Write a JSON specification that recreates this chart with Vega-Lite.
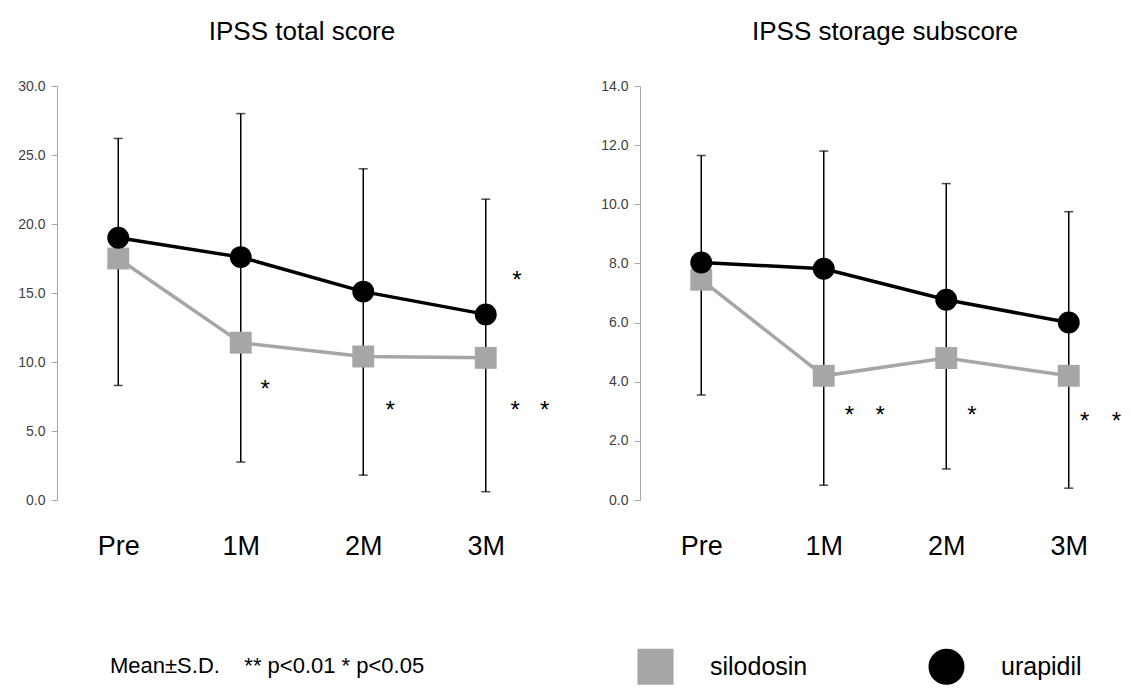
{
  "$schema": "https://vega.github.io/schema/vega-lite/v6.json",
  "padding": {"left": 17, "top": 19, "right": 0, "bottom": 0},
  "config": {
    "view": {"stroke": null},
    "font": "Liberation Sans",
    "concat": {"spacing": 50},
    "legend": {"orient": "none", "legendX": 53, "legendY": 562, "direction": "horizontal", "titleOrient": "left", "titleFontSize": 22, "titleFontWeight": "normal", "titleColor": "black", "titlePadding": 212, "titleLimit": 500, "symbolSize": 1300, "symbolStrokeWidth": 0, "symbolOpacity": 1, "labelFontSize": 25, "labelColor": "black", "labelOffset": 36, "labelLimit": 300, "columnPadding": 120}
  },
  "datasets": {
    "means": [
      {"panel": "total", "group": "silodosin", "time": "Pre", "t": 0, "value": 17.5},
      {"panel": "total", "group": "silodosin", "time": "1M", "t": 1, "value": 11.4},
      {"panel": "total", "group": "silodosin", "time": "2M", "t": 2, "value": 10.4},
      {"panel": "total", "group": "silodosin", "time": "3M", "t": 3, "value": 10.3},
      {"panel": "total", "group": "urapidil", "time": "Pre", "t": 0, "value": 19.0},
      {"panel": "total", "group": "urapidil", "time": "1M", "t": 1, "value": 17.6},
      {"panel": "total", "group": "urapidil", "time": "2M", "t": 2, "value": 15.1},
      {"panel": "total", "group": "urapidil", "time": "3M", "t": 3, "value": 13.45},
      {"panel": "storage", "group": "silodosin", "time": "Pre", "t": 0, "value": 7.45},
      {"panel": "storage", "group": "silodosin", "time": "1M", "t": 1, "value": 4.2},
      {"panel": "storage", "group": "silodosin", "time": "2M", "t": 2, "value": 4.8},
      {"panel": "storage", "group": "silodosin", "time": "3M", "t": 3, "value": 4.2},
      {"panel": "storage", "group": "urapidil", "time": "Pre", "t": 0, "value": 8.03},
      {"panel": "storage", "group": "urapidil", "time": "1M", "t": 1, "value": 7.82},
      {"panel": "storage", "group": "urapidil", "time": "2M", "t": 2, "value": 6.77},
      {"panel": "storage", "group": "urapidil", "time": "3M", "t": 3, "value": 6.0}
    ],
    "errs": [
      {"panel": "total", "time": "Pre", "t": 0, "low": 8.3, "high": 26.2},
      {"panel": "total", "time": "1M", "t": 1, "low": 2.75, "high": 28.0},
      {"panel": "total", "time": "2M", "t": 2, "low": 1.8, "high": 24.0},
      {"panel": "total", "time": "3M", "t": 3, "low": 0.6, "high": 21.8},
      {"panel": "storage", "time": "Pre", "t": 0, "low": 3.55, "high": 11.65},
      {"panel": "storage", "time": "1M", "t": 1, "low": 0.5, "high": 11.8},
      {"panel": "storage", "time": "2M", "t": 2, "low": 1.05, "high": 10.7},
      {"panel": "storage", "time": "3M", "t": 3, "low": 0.4, "high": 9.75}
    ],
    "stars": [
      {"panel": "total", "t": 1.2, "value": 8.33, "label": "*"},
      {"panel": "total", "t": 2.22, "value": 6.8, "label": "*"},
      {"panel": "total", "t": 3.24, "value": 6.8, "label": "*"},
      {"panel": "total", "t": 3.48, "value": 6.8, "label": "*"},
      {"panel": "total", "t": 3.255, "value": 16.2, "label": "*"},
      {"panel": "storage", "t": 1.21, "value": 3.0, "label": "*"},
      {"panel": "storage", "t": 1.46, "value": 3.0, "label": "*"},
      {"panel": "storage", "t": 2.21, "value": 3.0, "label": "*"},
      {"panel": "storage", "t": 3.13, "value": 2.8, "label": "*"},
      {"panel": "storage", "t": 3.39, "value": 2.8, "label": "*"}
    ]
  },
  "hconcat": [
    {
      "title": {"text": "IPSS total score", "fontSize": 26, "fontWeight": "normal", "font": "Liberation Sans", "color": "black", "offset": 34},
      "width": 490,
      "height": 414,
      "layer": [
        {
          "data": {"name": "errs"},
          "transform": [{"filter": "datum.panel === 'total'"}],
          "mark": {"type": "rule", "color": "black", "strokeWidth": 1.5},
          "encoding": {
            "x": {"field": "t", "type": "quantitative", "scale": {"domain": [-0.5, 3.5], "nice": false, "zero": false}, "axis": {"values": [0, 1, 2, 3], "labelExpr": "['Pre','1M','2M','3M'][datum.value]", "domain": false, "ticks": false, "grid": false, "labelFontSize": 27, "labelColor": "black", "labelPadding": 33, "title": null}},
            "y": {"field": "low", "type": "quantitative", "scale": {"domain": [0, 30], "nice": false}, "axis": {"values": [0, 5, 10, 15, 20, 25, 30], "format": ".1f", "grid": false, "domainColor": "#a6a6a6", "tickColor": "#a6a6a6", "tickSize": 6, "labelFontSize": 14, "labelColor": "#404040", "labelPadding": 6, "title": null}},
            "y2": {"field": "high"}
          }
        },
        {
          "data": {"name": "errs"},
          "transform": [{"filter": "datum.panel === 'total'"}],
          "mark": {"type": "tick", "orient": "horizontal", "size": 9, "thickness": 1.5, "color": "black"},
          "encoding": {
            "x": {"field": "t", "type": "quantitative"},
            "y": {"field": "low", "type": "quantitative"}
          }
        },
        {
          "data": {"name": "errs"},
          "transform": [{"filter": "datum.panel === 'total'"}],
          "mark": {"type": "tick", "orient": "horizontal", "size": 9, "thickness": 1.5, "color": "black"},
          "encoding": {
            "x": {"field": "t", "type": "quantitative"},
            "y": {"field": "high", "type": "quantitative"}
          }
        },
        {
          "data": {"name": "means"},
          "transform": [{"filter": "datum.panel === 'total'"}],
          "mark": {"type": "line", "strokeWidth": 3.5},
          "encoding": {
            "x": {"field": "t", "type": "quantitative"},
            "y": {"field": "value", "type": "quantitative"},
            "color": {"field": "group", "type": "nominal", "scale": {"domain": ["silodosin", "urapidil"], "range": ["#a6a6a6", "#000000"]}, "legend": {"title": "Mean±S.D.\u00a0\u00a0\u00a0\u00a0** p<0.01 * p<0.05"}}
          }
        },
        {
          "data": {"name": "means"},
          "transform": [{"filter": "datum.panel === 'total'"}],
          "mark": {"type": "point", "filled": true, "opacity": 1, "size": 480},
          "encoding": {
            "x": {"field": "t", "type": "quantitative"},
            "y": {"field": "value", "type": "quantitative"},
            "color": {"field": "group", "type": "nominal", "scale": {"domain": ["silodosin", "urapidil"], "range": ["#a6a6a6", "#000000"]}, "legend": {"title": "Mean±S.D.\u00a0\u00a0\u00a0\u00a0** p<0.01 * p<0.05"}},
            "shape": {"field": "group", "type": "nominal", "scale": {"domain": ["silodosin", "urapidil"], "range": ["square", "circle"]}, "legend": {"title": "Mean±S.D.\u00a0\u00a0\u00a0\u00a0** p<0.01 * p<0.05"}}
          }
        },
        {
          "data": {"name": "stars"},
          "transform": [{"filter": "datum.panel === 'total'"}],
          "mark": {"type": "text", "fontSize": 24, "baseline": "middle", "dy": 5, "color": "black"},
          "encoding": {
            "x": {"field": "t", "type": "quantitative"},
            "y": {"field": "value", "type": "quantitative"},
            "text": {"field": "label"}
          }
        }
      ]
    },
    {
      "title": {"text": "IPSS storage subscore", "fontSize": 26, "fontWeight": "normal", "font": "Liberation Sans", "color": "black", "offset": 34},
      "width": 490,
      "height": 414,
      "layer": [
        {
          "data": {"name": "errs"},
          "transform": [{"filter": "datum.panel === 'storage'"}],
          "mark": {"type": "rule", "color": "black", "strokeWidth": 1.5},
          "encoding": {
            "x": {"field": "t", "type": "quantitative", "scale": {"domain": [-0.5, 3.5], "nice": false, "zero": false}, "axis": {"values": [0, 1, 2, 3], "labelExpr": "['Pre','1M','2M','3M'][datum.value]", "domain": false, "ticks": false, "grid": false, "labelFontSize": 27, "labelColor": "black", "labelPadding": 33, "title": null}},
            "y": {"field": "low", "type": "quantitative", "scale": {"domain": [0, 14], "nice": false}, "axis": {"values": [0, 2, 4, 6, 8, 10, 12, 14], "format": ".1f", "grid": false, "domainColor": "#a6a6a6", "tickColor": "#a6a6a6", "tickSize": 6, "labelFontSize": 14, "labelColor": "#404040", "labelPadding": 6, "title": null}},
            "y2": {"field": "high"}
          }
        },
        {
          "data": {"name": "errs"},
          "transform": [{"filter": "datum.panel === 'storage'"}],
          "mark": {"type": "tick", "orient": "horizontal", "size": 9, "thickness": 1.5, "color": "black"},
          "encoding": {
            "x": {"field": "t", "type": "quantitative"},
            "y": {"field": "low", "type": "quantitative"}
          }
        },
        {
          "data": {"name": "errs"},
          "transform": [{"filter": "datum.panel === 'storage'"}],
          "mark": {"type": "tick", "orient": "horizontal", "size": 9, "thickness": 1.5, "color": "black"},
          "encoding": {
            "x": {"field": "t", "type": "quantitative"},
            "y": {"field": "high", "type": "quantitative"}
          }
        },
        {
          "data": {"name": "means"},
          "transform": [{"filter": "datum.panel === 'storage'"}],
          "mark": {"type": "line", "strokeWidth": 3.5},
          "encoding": {
            "x": {"field": "t", "type": "quantitative"},
            "y": {"field": "value", "type": "quantitative"},
            "color": {"field": "group", "type": "nominal", "scale": {"domain": ["silodosin", "urapidil"], "range": ["#a6a6a6", "#000000"]}, "legend": {"title": "Mean±S.D.\u00a0\u00a0\u00a0\u00a0** p<0.01 * p<0.05"}}
          }
        },
        {
          "data": {"name": "means"},
          "transform": [{"filter": "datum.panel === 'storage'"}],
          "mark": {"type": "point", "filled": true, "opacity": 1, "size": 480},
          "encoding": {
            "x": {"field": "t", "type": "quantitative"},
            "y": {"field": "value", "type": "quantitative"},
            "color": {"field": "group", "type": "nominal", "scale": {"domain": ["silodosin", "urapidil"], "range": ["#a6a6a6", "#000000"]}, "legend": {"title": "Mean±S.D.\u00a0\u00a0\u00a0\u00a0** p<0.01 * p<0.05"}},
            "shape": {"field": "group", "type": "nominal", "scale": {"domain": ["silodosin", "urapidil"], "range": ["square", "circle"]}, "legend": {"title": "Mean±S.D.\u00a0\u00a0\u00a0\u00a0** p<0.01 * p<0.05"}}
          }
        },
        {
          "data": {"name": "stars"},
          "transform": [{"filter": "datum.panel === 'storage'"}],
          "mark": {"type": "text", "fontSize": 24, "baseline": "middle", "dy": 5, "color": "black"},
          "encoding": {
            "x": {"field": "t", "type": "quantitative"},
            "y": {"field": "value", "type": "quantitative"},
            "text": {"field": "label"}
          }
        }
      ]
    }
  ],
  "resolve": {"scale": {"color": "shared", "shape": "shared"}, "legend": {"color": "shared", "shape": "shared"}}
}
